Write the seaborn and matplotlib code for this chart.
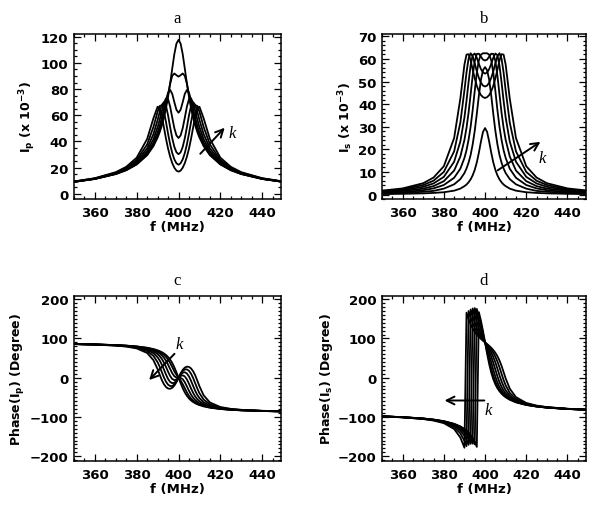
import numpy as np
import pandas as pd
import matplotlib
matplotlib.use("Agg")
import matplotlib.pyplot as plt
from matplotlib.ticker import MultipleLocator
import seaborn as sns

# frequency grid (MHz), seven coupling values k1..k7 (small -> large)
freq = [350, 360, 370, 375, 380, 385, 388, 390, 391, 392, 393, 394, 395, 396, 397, 398, 399, 400,
        401, 402, 403, 404, 405, 406, 407, 408, 409, 410, 412, 415, 420, 425, 430, 440, 450]

# primary current |Ip| (x 10^-3)
ip_curves = [
    [9.1, 11.3, 15.1, 18.0, 22.4, 29.5, 36.4, 43.0, 47.1, 52.1, 58.1, 65.3, 74.0, 84.3, 95.7, 106.7, 114.7, 117.6,
     114.7, 106.7, 95.7, 84.3, 74.0, 65.3, 58.1, 52.1, 47.1, 43.0, 36.4, 29.5, 22.4, 18.0, 15.1, 11.3, 9.1],
    [9.1, 11.4, 15.1, 18.1, 22.6, 30.0, 37.3, 44.3, 48.7, 54.1, 60.4, 67.8, 76.1, 84.2, 90.1, 91.9, 90.6, 89.5,
     90.6, 91.9, 90.1, 84.2, 76.1, 67.8, 60.4, 54.1, 48.7, 44.3, 37.3, 30.0, 22.6, 18.1, 15.1, 11.4, 9.1],
    [9.1, 11.4, 15.3, 18.4, 23.1, 31.0, 39.0, 46.9, 51.9, 57.8, 64.5, 71.5, 77.2, 79.3, 76.3, 70.0, 64.2, 61.9,
     64.2, 70.0, 76.3, 79.3, 77.2, 71.5, 64.5, 57.8, 51.9, 46.9, 39.0, 31.0, 23.1, 18.4, 15.3, 11.4, 9.1],
    [9.2, 11.5, 15.5, 18.7, 23.7, 32.5, 41.7, 50.9, 56.6, 63.0, 69.1, 72.9, 72.3, 66.5, 58.1, 50.1, 44.6, 42.6,
     44.6, 50.1, 58.1, 66.5, 72.3, 72.9, 69.1, 63.0, 56.6, 50.9, 41.7, 32.5, 23.7, 18.7, 15.5, 11.5, 9.2],
    [9.2, 11.6, 15.7, 19.2, 24.7, 34.7, 45.6, 56.4, 62.5, 67.8, 70.0, 67.2, 59.9, 50.8, 42.4, 35.8, 31.7, 30.2,
     31.7, 35.8, 42.4, 50.8, 59.9, 67.2, 70.0, 67.8, 62.5, 56.4, 45.6, 34.7, 24.7, 19.2, 15.7, 11.6, 9.2],
    [9.3, 11.8, 16.1, 19.8, 25.9, 37.7, 51.1, 62.7, 67.1, 67.6, 63.1, 54.9, 45.9, 37.7, 31.1, 26.3, 23.3, 22.2,
     23.3, 26.3, 31.1, 37.7, 45.9, 54.9, 63.1, 67.6, 67.1, 62.7, 51.1, 37.7, 25.9, 19.8, 16.1, 11.8, 9.3],
    [9.4, 11.9, 16.5, 20.6, 27.6, 41.9, 57.7, 66.5, 65.3, 59.3, 50.8, 42.1, 34.5, 28.3, 23.4, 19.9, 17.7, 16.9,
     17.7, 19.9, 23.4, 28.3, 34.5, 42.1, 50.8, 59.3, 65.3, 66.5, 57.7, 41.9, 27.6, 20.6, 16.5, 11.9, 9.4],
]

# secondary current |Is| (x 10^-3)
is_curves = [
    [0.2, 0.3, 0.5, 0.7, 1.0, 1.7, 2.6, 3.7, 4.4, 5.4, 6.7, 8.5, 10.9, 14.2, 18.5, 23.4, 27.7, 29.4,
     27.7, 23.4, 18.5, 14.2, 10.9, 8.5, 6.7, 5.4, 4.4, 3.7, 2.6, 1.7, 1.0, 0.7, 0.5, 0.3, 0.2],
    [0.4, 0.7, 1.2, 1.6, 2.6, 4.5, 6.8, 9.5, 11.5, 14.1, 17.5, 22.2, 28.2, 35.7, 43.8, 50.8, 55.0, 56.4,
     55.0, 50.8, 43.8, 35.7, 28.2, 22.2, 17.5, 14.1, 11.5, 9.5, 6.8, 4.5, 2.6, 1.6, 1.2, 0.7, 0.4],
    [0.7, 1.0, 1.9, 2.7, 4.2, 7.4, 11.4, 16.2, 19.6, 24.2, 30.0, 37.4, 45.9, 53.9, 59.4, 61.9, 62.5, 62.5,
     62.5, 61.9, 59.4, 53.9, 45.9, 37.4, 30.0, 24.2, 19.6, 16.2, 11.4, 7.4, 4.2, 2.7, 1.9, 1.0, 0.7],
    [0.9, 1.5, 2.6, 3.7, 5.9, 10.6, 16.8, 24.2, 29.5, 36.2, 44.3, 52.6, 59.1, 62.2, 62.3, 61.0, 59.7, 59.3,
     59.7, 61.0, 62.3, 62.2, 59.1, 52.6, 44.3, 36.2, 29.5, 24.2, 16.8, 10.6, 5.9, 3.7, 2.6, 1.5, 0.9],
    [1.2, 1.9, 3.4, 4.9, 7.8, 14.5, 23.4, 34.1, 41.5, 49.7, 57.1, 61.7, 62.4, 60.5, 57.8, 55.5, 54.0, 53.5,
     54.0, 55.5, 57.8, 60.5, 62.4, 61.7, 57.1, 49.7, 41.5, 34.1, 23.4, 14.5, 7.8, 4.9, 3.4, 1.9, 1.2],
    [1.5, 2.3, 4.2, 6.1, 10.0, 19.1, 31.8, 46.1, 54.0, 60.1, 62.5, 61.2, 58.0, 54.5, 51.6, 49.5, 48.2, 47.8,
     48.2, 49.5, 51.6, 54.5, 58.0, 61.2, 62.5, 60.1, 54.0, 46.1, 31.8, 19.1, 10.0, 6.1, 4.2, 2.3, 1.5],
    [1.7, 2.7, 5.0, 7.5, 12.5, 25.0, 42.4, 57.5, 61.9, 62.1, 59.3, 55.2, 51.4, 48.1, 45.7, 44.0, 43.1, 42.7,
     43.1, 44.0, 45.7, 48.1, 51.4, 55.2, 59.3, 62.1, 61.9, 57.5, 42.4, 25.0, 12.5, 7.5, 5.0, 2.7, 1.7],
]

# phase of Ip (degree)
phase_p_curves = [
    [85.8, 84.8, 83.1, 81.7, 79.7, 76.3, 73.0, 69.7, 67.7, 65.1, 61.9, 57.9, 52.8, 46.1, 37.5, 26.5, 13.8, 0,
     -13.8, -26.5, -37.5, -46.1, -52.8, -57.9, -61.9, -65.1, -67.7, -69.7, -73.0, -76.3, -79.7, -81.7, -83.1, -84.8, -85.8],
    [85.8, 84.8, 83.0, 81.6, 79.4, 75.8, 72.1, 68.3, 65.7, 62.5, 58.4, 53.1, 46.2, 37.4, 27.0, 16.3, 7.2, 0,
     -7.2, -16.3, -27.0, -37.4, -46.2, -53.1, -58.4, -62.5, -65.7, -68.3, -72.1, -75.8, -79.4, -81.6, -83.0, -84.8, -85.8],
    [85.8, 84.7, 82.9, 81.4, 79.0, 74.8, 70.2, 65.2, 61.7, 57.1, 51.1, 43.2, 33.3, 22.1, 11.4, 3.8, 0.4, 0,
     -0.4, -3.8, -11.4, -22.1, -33.3, -43.2, -51.1, -57.1, -61.7, -65.2, -70.2, -74.8, -79.0, -81.4, -82.9, -84.7, -85.8],
    [85.8, 84.6, 82.7, 81.1, 78.4, 73.3, 67.2, 60.1, 54.8, 47.9, 38.8, 27.6, 15.3, 4.2, -3.3, -6.1, -4.5, 0,
     4.5, 6.1, 3.3, -4.2, -15.3, -27.6, -38.8, -47.9, -54.8, -60.1, -67.2, -73.3, -78.4, -81.1, -82.7, -84.6, -85.8],
    [85.7, 84.5, 82.4, 80.6, 77.5, 71.0, 62.5, 51.9, 43.9, 33.6, 21.1, 8.1, -3.2, -10.8, -14.0, -12.8, -7.7, 0,
     7.7, 12.8, 14.0, 10.8, 3.2, -8.1, -21.1, -33.6, -43.9, -51.9, -62.5, -71.0, -77.5, -80.6, -82.4, -84.5, -85.7],
    [85.6, 84.4, 82.1, 80.0, 76.2, 67.7, 55.5, 39.4, 27.8, 14.4, 1.0, -10.1, -17.6, -21.2, -21.1, -17.1, -9.7, 0,
     9.7, 17.1, 21.1, 21.2, 17.6, 10.1, -1.0, -14.4, -27.8, -39.4, -55.5, -67.7, -76.2, -80.0, -82.1, -84.4, -85.6],
    [85.6, 84.2, 81.7, 79.3, 74.6, 63.0, 44.7, 21.7, 7.6, -5.8, -16.4, -23.6, -27.5, -28.2, -25.7, -20.0, -11.1, 0,
     11.1, 20.0, 25.7, 28.2, 27.5, 23.6, 16.4, 5.8, -7.6, -21.7, -44.7, -63.0, -74.6, -79.3, -81.7, -84.2, -85.6],
]

# phase of Is (degree), wrapped to +-180
phase_s_curves = [
    [-98.3, -100.4, -103.8, -106.6, -110.6, -117.3, -123.9, -130.2, -134.3, -139.3, -145.5, -153.3, -163.2, -176.2,
     167.0, 145.3, 119.1, 90, 60.9, 34.7, 13.0, -3.8, -16.8, -26.7, -34.5, -40.7, -45.7, -49.8, -56.1, -62.7,
     -69.4, -73.4, -76.2, -79.6, -81.7],
    [-98.3, -100.4, -103.9, -106.7, -110.9, -117.8, -124.8, -131.7, -136.3, -141.9, -149.0, -158.1, -169.8, 175.1,
     156.5, 135.1, 112.6, 90, 67.4, 44.9, 23.5, 4.9, -10.2, -21.9, -31.0, -38.1, -43.7, -48.3, -55.2, -62.2,
     -69.1, -73.3, -76.1, -79.6, -81.7],
    [-98.4, -100.5, -104.0, -106.9, -111.3, -118.8, -126.6, -134.8, -140.3, -147.3, -156.3, -168.0, 177.3, 159.8,
     140.9, 122.6, 105.8, 90, 74.2, 57.4, 39.1, 20.2, 2.7, -12.0, -23.7, -32.7, -39.7, -45.2, -53.4, -61.2,
     -68.7, -73.1, -76.0, -79.5, -81.6],
    [-98.4, -100.5, -104.2, -107.2, -111.9, -120.3, -129.7, -139.9, -147.2, -156.6, -168.6, 176.4, 159.3, 141.9,
     126.2, 112.7, 100.9, 90, 79.1, 67.3, 53.8, 38.1, 20.7, 3.6, -11.4, -23.4, -32.8, -40.1, -50.3, -59.7,
     -68.1, -72.8, -75.8, -79.5, -81.6],
    [-98.4, -100.7, -104.5, -107.7, -112.8, -122.6, -134.3, -148.0, -158.1, -170.9, 173.7, 156.9, 140.8, 127.0,
     115.5, 106.0, 97.7, 90, 82.3, 74.0, 64.5, 53.0, 39.2, 23.1, 6.3, -9.1, -21.9, -32.0, -45.7, -57.4,
     -67.2, -72.3, -75.5, -79.3, -81.6],
    [-98.5, -100.8, -104.8, -108.3, -114.1, -125.9, -141.4, -160.6, -174.2, 169.9, 153.5, 138.7, 126.4, 116.5,
     108.5, 101.7, 95.7, 90, 84.3, 78.3, 71.5, 63.5, 53.6, 41.3, 26.5, 10.1, -5.8, -19.4, -38.6, -54.1,
     -65.9, -71.7, -75.2, -79.2, -81.5],
    [-98.6, -101.0, -105.2, -109.0, -115.7, -130.6, -152.1, -178.3, 165.6, 149.8, 136.2, 125.2, 116.5, 109.6,
     103.8, 98.8, 94.3, 90, 85.7, 81.2, 76.2, 70.4, 63.5, 54.8, 43.8, 30.2, 14.4, -1.7, -27.9, -49.4,
     -64.3, -71.0, -74.8, -79.0, -81.4],
]

panel_titles = ["a", "b", "c", "d"]
y_labels = [r"I$_{\rm p}$ (x 10$^{-3}$)", r"I$_{\rm s}$ (x 10$^{-3}$)",
            r"Phase(I$_{\rm p}$) (Degree)", r"Phase(I$_{\rm s}$) (Degree)"]


def to_long(curves):
    rows = []
    for i, c in enumerate(curves):
        for f, v in zip(freq, c):
            rows.append({"f": f, "v": v, "k": i})
    return pd.DataFrame(rows)


sns.set_style("ticks")
plt.rcParams["font.family"] = ["DejaVu Sans"]
plt.rcParams["font.weight"] = "bold"
plt.rcParams["mathtext.fontset"] = "custom"
plt.rcParams["mathtext.rm"] = "DejaVu Sans:bold"
plt.rcParams["mathtext.it"] = "DejaVu Sans:bold"
plt.rcParams["mathtext.bf"] = "DejaVu Sans:bold"
plt.rcParams["axes.linewidth"] = 1.1
for key in ["text.color", "axes.labelcolor", "xtick.color", "ytick.color", "axes.edgecolor"]:
    plt.rcParams[key] = "black"

fig = plt.figure(figsize=(6.0, 5.06), dpi=100)
positions = [[0.1233, 0.6047, 0.345, 0.326], [0.6367, 0.6047, 0.340, 0.326],
             [0.1233, 0.0870, 0.345, 0.326], [0.6367, 0.0870, 0.340, 0.326]]
data = [ip_curves, is_curves, phase_p_curves, phase_s_curves]
ylims = [(-4, 122), (-2, 71), (-212, 208), (-212, 208)]
ymajor = [20, 10, 100, 100]
yminor = [5, 2, 10, 10]

axes = []
for i in range(4):
    ax = fig.add_axes(positions[i])
    df = to_long(data[i])
    sns.lineplot(data=df, x="f", y="v", units="k", estimator=None, sort=False,
                 color="black", linewidth=1.3, ax=ax, legend=False)
    ax.set_xlim(350, 449)
    ax.set_ylim(*ylims[i])
    ax.xaxis.set_major_locator(MultipleLocator(20))
    ax.xaxis.set_minor_locator(MultipleLocator(5))
    ax.yaxis.set_major_locator(MultipleLocator(ymajor[i]))
    ax.yaxis.set_minor_locator(MultipleLocator(yminor[i]))
    ax.tick_params(which="both", direction="in", top=True, right=True, labelsize=9.5, width=0.9)
    ax.tick_params(axis="x", pad=5)
    ax.tick_params(axis="y", pad=4)
    ax.tick_params(which="major", length=5)
    ax.tick_params(which="minor", length=2.5)
    ax.set_xticks([360, 380, 400, 420, 440])
    ax.set_xlabel("f (MHz)", fontsize=9.5, fontweight="bold", labelpad=1)
    ax.set_ylabel(y_labels[i], fontsize=9, fontweight="bold", labelpad=2)
    ax.set_title(panel_titles[i], fontsize=12, family="Liberation Serif", fontweight="normal", pad=9)
    axes.append(ax)

arrow = dict(arrowstyle="->", color="black", lw=1.4, mutation_scale=14)
kfont = dict(family="Liberation Serif", style="italic", fontweight="normal", fontsize=12)

axes[0].annotate("", xy=(423, 52), xytext=(409.5, 29), arrowprops=arrow)
axes[0].text(424, 43, "k", **kfont)
axes[1].annotate("", xy=(428, 24), xytext=(405, 10), arrowprops=arrow)
axes[1].text(426, 14.5, "k", **kfont)
axes[2].annotate("", xy=(385, -11), xytext=(399, 66), arrowprops=arrow)
axes[2].text(398.5, 76, "k", **kfont)
axes[3].annotate("", xy=(379, -58), xytext=(401, -58), arrowprops=arrow)
axes[3].text(399.5, -92, "k", **kfont)

fig.savefig("out.png", dpi=100)
